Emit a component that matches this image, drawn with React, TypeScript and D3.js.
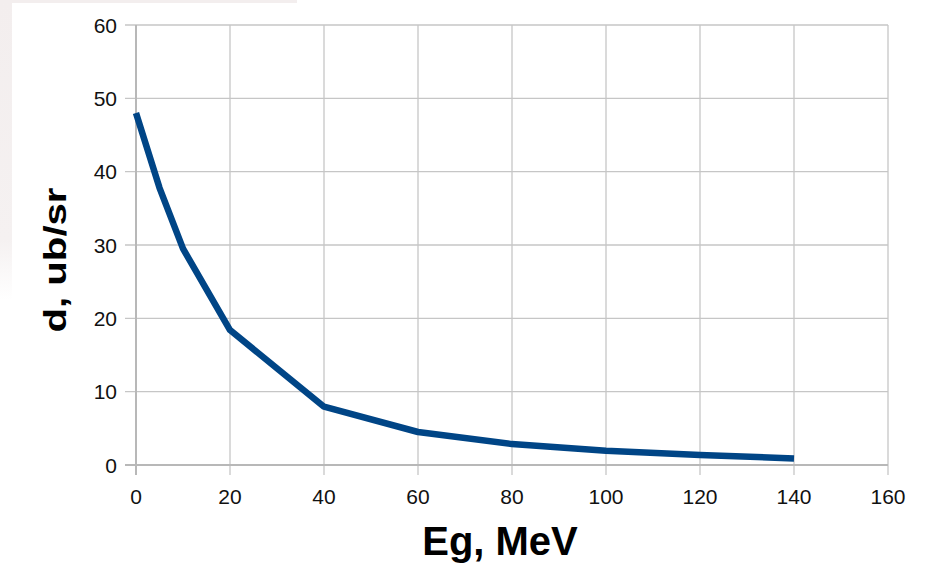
import React from "react";
import * as d3 from "d3";

const energies = [0, 5, 10, 20, 40, 60, 80, 100, 120, 140];
const crossSections = [48, 37.8, 29.5, 18.4, 7.95, 4.5, 2.85, 1.95, 1.35, 0.9];
const xTicks = [0, 20, 40, 60, 80, 100, 120, 140, 160];
const yTicks = [0, 10, 20, 30, 40, 50, 60];
const xLabel = "Eg, MeV";
const yLabel = "d, ub/sr";

const W = 926;
const H = 571;
const left = 136;
const right = 888;
const top = 25;
const bottom = 465;

export default function App() {
  const x = d3.scaleLinear().domain([0, 160]).range([left, right]);
  const y = d3.scaleLinear().domain([0, 60]).range([bottom, top]);
  const pts = energies.map((e, i) => [e, crossSections[i]] as [number, number]);
  const line = d3
    .line<[number, number]>()
    .x((d) => x(d[0]))
    .y((d) => y(d[1]))
    .curve(d3.curveLinear);
  const font = "'Liberation Sans', Arial, sans-serif";
  return (
    <svg
      width={W}
      height={H}
      style={{ position: "absolute", left: 0, top: 0 }}
      viewBox={`0 0 ${W} ${H}`}
    >
      <defs>
        <linearGradient id="fade" x1="0" y1="0" x2="0" y2="1">
          <stop offset="0" stopColor="#f3eeee" />
          <stop offset="0.8" stopColor="#f5f1f1" />
          <stop offset="1" stopColor="#ffffff" />
        </linearGradient>
      </defs>
      <rect x={0} y={0} width={W} height={H} fill="#ffffff" />
      <rect x={0} y={0} width={12} height={300} fill="url(#fade)" />
      <rect x={0} y={0} width={297} height={3} fill="#f3eeee" />
      {/* grid */}
      {yTicks.map((t) => (
        <line
          key={"gy" + t}
          x1={left - 11}
          x2={right}
          y1={y(t)}
          y2={y(t)}
          stroke="#c6c6c6"
          strokeWidth={1.3}
        />
      ))}
      {xTicks.map((t) => (
        <line
          key={"gx" + t}
          x1={x(t)}
          x2={x(t)}
          y1={top}
          y2={bottom + 10}
          stroke="#c6c6c6"
          strokeWidth={1.3}
        />
      ))}
      <line x1={left} x2={left} y1={top} y2={bottom + 10} stroke="#b8b8b8" strokeWidth={2} />
      <line x1={left - 11} x2={right} y1={bottom} y2={bottom} stroke="#b8b8b8" strokeWidth={2} />
      {/* data */}
      <path
        d={line(pts) || ""}
        fill="none"
        stroke="#004586"
        strokeWidth={6.5}
        strokeLinejoin="round"
        strokeLinecap="butt"
      />
      {/* tick labels */}
      {yTicks.map((t) => (
        <text
          key={"ly" + t}
          x={117}
          y={y(t)}
          dy="0.36em"
          textAnchor="end"
          fontFamily={font}
          fontSize={21}
          fill="#111"
        >
          {t}
        </text>
      ))}
      {xTicks.map((t) => (
        <text
          key={"lx" + t}
          x={x(t)}
          y={504}
          textAnchor="middle"
          fontFamily={font}
          fontSize={21}
          fill="#111"
        >
          {t}
        </text>
      ))}
      <text
        x={500}
        y={555}
        textAnchor="middle"
        fontFamily={font}
        fontSize={40}
        fontWeight="bold"
        fill="#000"
      >
        {xLabel}
      </text>
      <text
        transform={`translate(66,260) rotate(-90)`}
        textAnchor="middle"
        fontFamily={font}
        fontSize={31}
        fontWeight="bold"
        fill="#000"
        textLength={145}
        lengthAdjust="spacingAndGlyphs"
      >
        {yLabel}
      </text>
    </svg>
  );
}
